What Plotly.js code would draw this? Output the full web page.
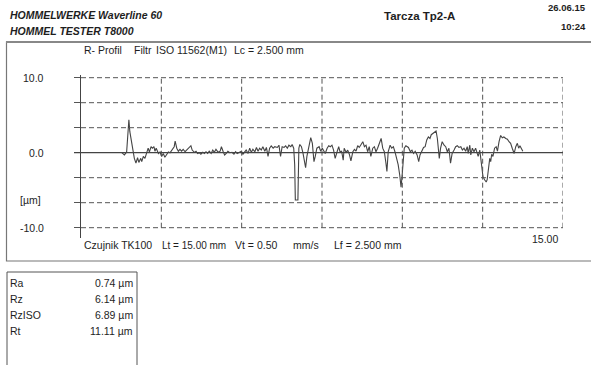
<!DOCTYPE html>
<html><head><meta charset="utf-8">
<script src="https://cdn.plot.ly/plotly-3.0.1.min.js"></script>
<style>html,body{margin:0;padding:0;background:#fff}#chart{width:591px;height:365px}</style>
</head><body><div id="chart"></div>
<script>
// R-profile: [position along trace (mm), height (µm)]
const profile = [
[1.27,0],[1.35,-0.3],[1.42,0.1],[1.49,4.4],[1.52,2.8],[1.60,0.6],[1.66,-0.75],[1.71,-1.4],[1.76,-0.67],[1.80,-1.3],
[1.86,-0.75],[1.89,-1.2],[1.94,-0.5],[1.99,-0.75],[2.04,-0.1],[2.09,0.6],[2.13,0.1],[2.18,0.8],[2.22,0.6],[2.27,0.8],
[2.30,0.2],[2.34,0.6],[2.41,-0.1],[2.46,0.1],[2.51,-0.5],[2.56,-0.1],[2.61,-0.6],[2.67,-0.1],[2.72,0.1],[2.77,0],
[2.84,0.35],[2.90,0.8],[2.93,1.56],[2.98,0.6],[3.03,0.2],[3.08,0.45],[3.13,0.2],[3.18,0.45],[3.24,0.13],[3.29,0.35],
[3.36,0.7],[3.42,0.93],[3.46,0.35],[3.53,0.05],[3.58,0.2],[3.63,-0.1],[3.68,0],[3.73,-0.2],[3.79,0.05],[3.84,-0.1],
[3.89,0.13],[3.94,-0.1],[3.99,0.2],[4.05,-0.1],[4.10,0.35],[4.15,0.05],[4.20,0.45],[4.27,0.05],[4.33,0.2],
[4.37,0.8],[4.42,0.2],[4.47,-0.3],[4.52,-0.1],[4.57,0.2],[4.63,0],[4.70,0.05],[4.76,-0.2],[4.81,0.13],[4.86,-0.1],
[4.92,0.05],[4.99,0.2],[5.04,-0.2],[5.09,0.13],[5.14,0.35],[5.20,-0.1],[5.25,0.6],[5.30,0.05],[5.35,0.45],[5.41,0.13],
[5.46,0.7],[5.51,0.2],[5.56,0.6],[5.61,0.35],[5.66,0.8],[5.72,0.2],[5.77,0.7],[5.82,-0.5],[5.87,0.6],[5.92,0.9],
[5.98,0.6],[6.03,0.8],[6.11,0.7],[6.16,1.0],[6.21,-0.5],[6.26,0.8],[6.32,0.7],[6.37,0.9],[6.42,0.6],[6.47,1.0],
[6.53,0.8],[6.57,1.1],[6.62,0.6],[6.65,-1.6],[6.67,-6.3],[6.75,-6.3],[6.78,0.6],[6.81,1.1],[6.86,0.8],[6.91,-0.1],
[6.96,-1.2],[6.99,-2.0],[7.03,-0.5],[7.09,0.8],[7.15,2.0],[7.20,1.25],[7.25,-1.2],[7.29,-0.5],[7.34,0.6],[7.41,0.8],
[7.46,0.2],[7.51,0.6],
[7.55,0.35],[7.60,-0.1],[7.66,0.6],[7.71,0.93],[7.76,0.8],[7.81,1.0],[7.86,0.35],[7.91,-0.75],[7.97,0.13],[8.02,0.8],
[8.06,0.13],[8.11,0.2],[8.16,-1.0],[8.19,0.6],[8.25,0.05],[8.30,0.35],[8.35,-0.2],[8.40,-1.1],[8.46,0.13],[8.51,0.45],
[8.56,0.2],[8.61,0.93],[8.66,0.7],[8.71,1.1],[8.77,1.47],[8.82,0.8],[8.87,1.0],[8.92,0.13],[8.97,0.8],[9.02,-0.5],
[9.08,0.6],[9.13,0.8],[9.18,0.13],[9.23,0.6],[9.28,1.25],[9.34,1.9],[9.39,0.6],[9.44,0.13],[9.49,-1.4],[9.52,-2.5],
[9.56,0.13],[9.62,1.0],[9.67,0.6],[9.72,0.8],[9.77,0.13],[9.82,-0.75],[9.87,-1.6],[9.92,-3.0],[9.96,-4.6],[9.99,-3.2],
[10.02,-1.2],[10.06,0.6],[10.11,0.93],[10.19,0.7],[10.25,0.13],[10.30,0.35],[10.35,-0.1],[10.40,0.2],[10.46,-0.3],[10.51,-1.2],
[10.55,-0.3],[10.60,0.13],[10.66,0.7],
[10.71,0.8],[10.76,1.7],[10.81,2.1],[10.86,1.9],[10.90,2.4],[10.95,2.6],[11.01,2.8],[11.05,2.9],[11.09,1.9],[11.12,0.8],
[11.15,-0.75],[11.19,0.6],[11.24,1.47],[11.30,1.0],[11.35,0.8],[11.40,0.13],[11.45,0.6],[11.50,-1.4],[11.55,-0.1],[11.61,0.35],
[11.66,0.8],[11.71,0.93],[11.76,0.7],[11.82,0.8],[11.87,0.35],[11.92,0.6],[11.97,0.2],[12.02,0.8],[12.05,-0.1],[12.10,1.0],
[12.13,-0.3],[12.18,0.6],[12.23,0.13],[12.28,0.6],[12.33,-0.1],[12.36,-0.5],[12.41,0.35],[12.45,-1.2],[12.48,-2.5],[12.51,-3.2],
[12.56,-3.6],[12.61,-3.9],[12.64,-3.6],[12.68,-2.1],[12.72,-0.75],[12.75,-1.2],[12.78,-0.2],[12.82,-0.5],[12.87,0.6],[12.92,0.8],
[12.96,0.2],[13.01,1.47],[13.06,2.3],[13.11,2.0],[13.16,2.1],[13.22,1.9],[13.27,1.8],[13.32,1.47],[13.37,1.25],[13.42,0.6],
[13.48,-0.1],[13.53,0.8],[13.58,1.25],[13.62,0.6],[13.66,0.93],[13.70,0.6],[13.75,0.2]
];
const profileX = profile.map(p => p[0]);
const profileZ = profile.map(p => p[1]);

const gridY = [-10, -6.667, -3.333, 3.333, 6.667, 10];
const gridX = [2.5, 5, 7.5, 10, 12.5, 15];
const yTickVals = [-10, -6.667, -3.333, 0, 3.333, 6.667, 10];
const yLabelVals = [10, 0, -10];
const yLabelText = ['10.0', '0.0', '-10.0'];
const xEndLabel = '15.00';

const statNames = ['Ra', 'Rz', 'RzISO', 'Rt'];
const statValues = ['0.74 µm', '6.14 µm', '6.89 µm', '11.11 µm'];

const headerLines = ['HOMMELWERKE Waverline 60', 'HOMMEL TESTER T8000'];
const sampleTitle = 'Tarcza Tp2-A';
const dateText = '26.06.15';
const timeText = '10:24';
const topInfo = ['R- Profil', 'Filtr', 'ISO 11562(M1)', 'Lc = 2.500 mm'];
const bottomInfo = ['Czujnik TK100', 'Lt = 15.00 mm', 'Vt = 0.50', 'mm/s', 'Lf = 2.500 mm'];

// layout geometry helpers (pixel -> paper)
const W = 591, H = 365, L = 81, R = 28, T = 75, B = 127;
const PW = W - L - R, PH = H - T - B;
const px = x => (x - L) / PW;
const py = y => (H - B - y) / PH;

const FONT = 'Liberation Sans, Arial, sans-serif';
const TXT = '#1e1e1e';
const GRID = '#555';

const ann = [];
function text(t, x, y, anchor, size, extra) {
  ann.push(Object.assign({
    text: t, xref: 'paper', yref: 'paper', x: px(x), y: py(y),
    xanchor: anchor, yanchor: 'middle', showarrow: false,
    font: {family: FONT, size: size, color: TXT}
  }, extra || {}));
}
text('<b><i>' + headerLines[0] + '</i></b>', 8, 15, 'left', 10.5);
text('<b><i>' + headerLines[1] + '</i></b>', 8, 31, 'left', 10.5);
text('<b>' + sampleTitle + '</b>', 419, 16, 'center', 11.5);
text('<b>' + dateText + '</b>', 588, 8, 'right', 9.5);
text('<b>' + timeText + '</b>', 588, 27, 'right', 9.5);

const topX = [82, 132, 154, 232];
topInfo.forEach((t, i) => text(t, topX[i], 50, 'left', 10.5));
const botX = [82, 160, 233, 321, 332];
const botAnchor = ['left', 'left', 'left', 'right', 'left'];
const botSize = [10.5, 10, 10.5, 10.5, 10.5];
bottomInfo.forEach((t, i) => text(t, botX[i], 245, botAnchor[i], botSize[i]));
text(xEndLabel, 560, 239, 'right', 10.5);

yLabelVals.forEach((v, i) => ann.push({
  text: yLabelText[i], xref: 'paper', yref: 'y', x: px(46), y: v,
  xanchor: 'right', yanchor: 'middle', showarrow: false,
  font: {family: FONT, size: 10.5, color: TXT}
}));
text('[µm]', 43, 200, 'right', 10.5);

statNames.forEach((n, i) => {
  text(n, 8, 283 + 16 * i, 'left', 10.5);
  text(statValues[i], 135, 283 + 16 * i, 'right', 10.5);
});

const shapes = [];
gridY.forEach(v => shapes.push({type: 'line', xref: 'x', yref: 'y', x0: 0, x1: 15, y0: v, y1: v,
  line: {color: GRID, width: 1, dash: '5px,3px'}}));
gridX.forEach(v => shapes.push({type: 'line', xref: 'x', yref: 'y', x0: v, x1: v, y0: -10, y1: 10,
  line: {color: GRID, width: 1, dash: '5px,3px'}}));
// zero reference line
shapes.push({type: 'line', xref: 'paper', yref: 'y', x0: px(74), x1: 1, y0: 0, y1: 0,
  line: {color: '#444', width: 1.2}});
// outer frame of the profile panel
shapes.push({type: 'rect', xref: 'paper', yref: 'paper', x0: px(6.5), x1: px(600), y0: py(42), y1: py(261),
  line: {color: '#777', width: 1.2}});
shapes.push({type: 'line', xref: 'paper', yref: 'paper', x0: px(6), x1: px(591), y0: py(42), y1: py(42),
  line: {color: '#888', width: 2}});
// results box
shapes.push({type: 'rect', xref: 'paper', yref: 'paper', x0: px(7), x1: px(137), y0: py(272), y1: py(372),
  line: {color: '#555', width: 1}});

const trace = {
  x: profileX, y: profileZ, type: 'scatter', mode: 'lines',
  line: {color: '#444', width: 1.1}, hoverinfo: 'skip'
};

const layout = {
  width: W, height: H,
  margin: {l: L, r: R, t: T, b: B, pad: 0},
  paper_bgcolor: '#fff', plot_bgcolor: '#fff',
  showlegend: false,
  xaxis: {range: [0, 15], visible: false, fixedrange: true},
  yaxis: {range: [-11.373, 10.36], showgrid: false, zeroline: false,
    showline: true, linecolor: '#444', linewidth: 1,
    ticks: 'outside', ticklen: 6, tickwidth: 1, tickcolor: '#555',
    tickvals: yTickVals, showticklabels: false, fixedrange: true},
  shapes: shapes,
  annotations: ann
};
Plotly.newPlot('chart', [trace], layout, {displayModeBar: false, staticPlot: true});
</script>
</body></html>
